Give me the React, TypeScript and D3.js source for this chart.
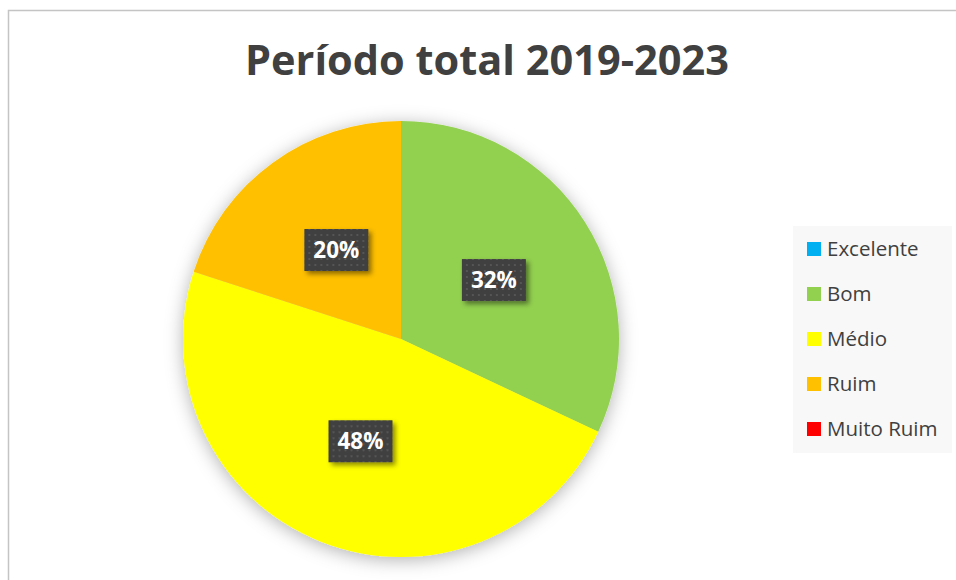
import * as d3 from "d3";

const categories = ["Excelente", "Bom", "Médio", "Ruim", "Muito Ruim"];
const values = [0, 32, 48, 20, 0];
const colors = ["#00B0F0", "#92D050", "#FFFF00", "#FFC000", "#FF0000"];
const title = "Período total 2019-2023";

const W = 956;
const H = 580;
const cx = 401;
const cy = 339;
const radius = 218;
const labelRadius = 110;
const font = "'Open Sans', 'Noto Sans', sans-serif";

export default function App() {
  const total = d3.sum(values);
  const pie = d3.pie<number>().sort(null).value((d) => d);
  const arcs = pie(values);
  const arc = d3.arc<d3.PieArcDatum<number>>().innerRadius(0).outerRadius(radius);
  const labelArc = d3.arc<d3.PieArcDatum<number>>().innerRadius(labelRadius).outerRadius(labelRadius);
  const fmt = d3.format(".0%");

  const legendY = d3.scalePoint<string>().domain(categories).range([249, 429]);

  return (
    <svg width={W} height={H} style={{ position: "absolute", left: 0, top: 0 }}>
      <defs>
        <filter id="pieShadow" x="-20%" y="-20%" width="140%" height="140%">
          <feDropShadow dx="0" dy="3" stdDeviation="9" floodColor="#000" floodOpacity="0.3" />
        </filter>
        <filter id="boxShadow" x="-30%" y="-30%" width="160%" height="160%">
          <feDropShadow dx="3" dy="3" stdDeviation="2.5" floodColor="#000" floodOpacity="0.45" />
        </filter>
        <pattern id="dots" width="6" height="6" patternUnits="userSpaceOnUse">
          <rect width="6" height="6" fill="#404040" />
          <rect x="2" y="2" width="2" height="2" fill="#555555" />
        </pattern>
      </defs>
      <rect x={0} y={0} width={W} height={H} fill="#ffffff" />
      <rect x={8.5} y={10.5} width={W + 20} height={H + 20} fill="#ffffff" stroke="#c4c4c4" strokeWidth={1.5} />

      <text
        x={487}
        y={75}
        textAnchor="middle"
        fontFamily={font}
        fontWeight="bold"
        fontSize={41.5}
        fill="#404040"
      >
        {title}
      </text>

      <g transform={`translate(${cx},${cy})`}>
        <g filter="url(#pieShadow)">
          {arcs.map((a, i) =>
            a.value > 0 ? <path key={i} d={arc(a) || undefined} fill={colors[i]} /> : null
          )}
        </g>
        {arcs.map((a, i) => {
          if (a.value <= 0) return null;
          const [lx, ly] = labelArc.centroid(a);
          const bw = 64;
          const bh = 42;
          return (
            <g key={"l" + i} transform={`translate(${lx},${ly})`}>
              <rect
                x={-bw / 2}
                y={-bh / 2}
                width={bw}
                height={bh}
                fill="url(#dots)"
                filter="url(#boxShadow)"
              />
              <text
                textAnchor="middle"
                dy="0.36em"
                fontFamily={font}
                fontWeight="bold"
                fontSize={22.5}
                fill="#ffffff"
              >
                {fmt(a.value / total)}
              </text>
            </g>
          );
        })}
      </g>

      <rect x={793} y={226} width={159} height={227} fill="#f8f8f8" />
      {categories.map((c, i) => {
        const y = legendY(c) as number;
        return (
          <g key={c}>
            <rect x={807} y={y - 7} width={14} height={14} fill={colors[i]} />
            <text
              x={827}
              y={y}
              dy="0.35em"
              fontFamily={font}
              fontSize={20.5}
              fill="#404040"
            >
              {c}
            </text>
          </g>
        );
      })}
    </svg>
  );
}
